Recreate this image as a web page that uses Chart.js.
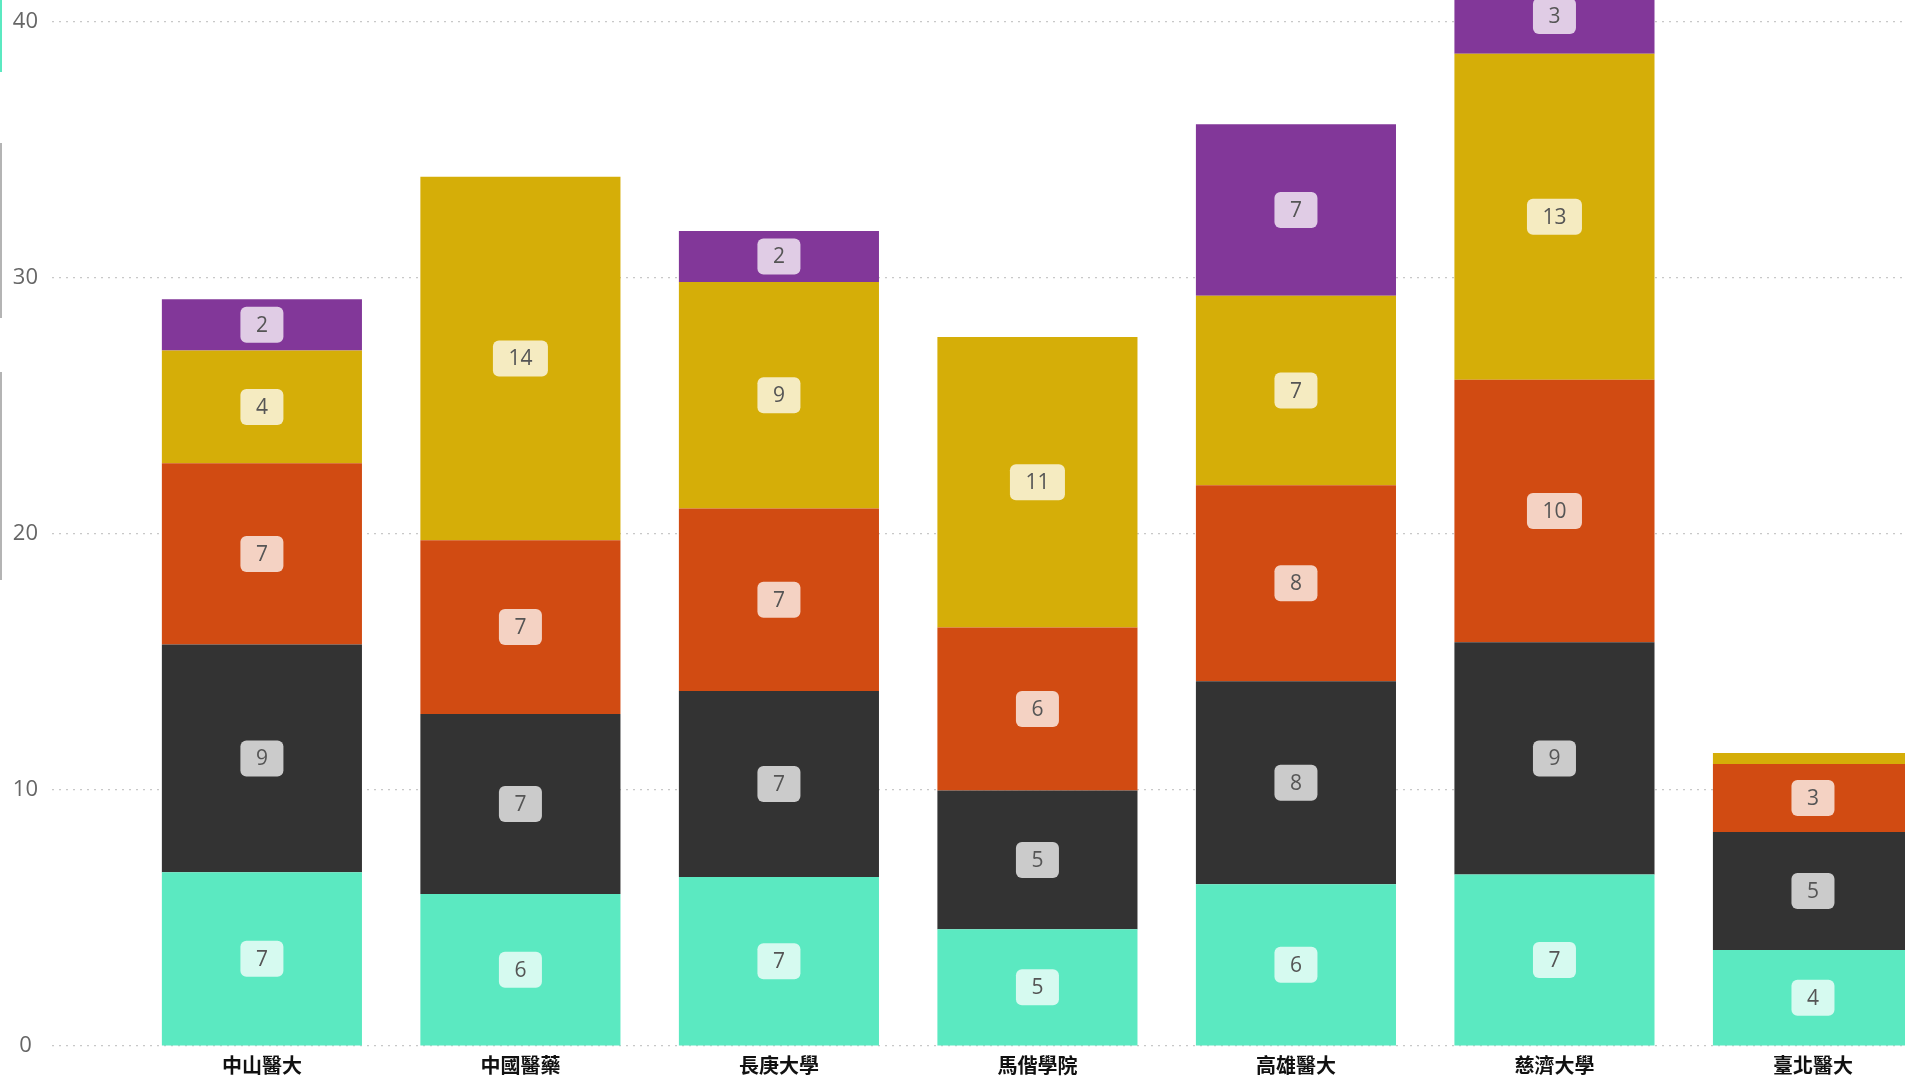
<!DOCTYPE html>
<html>
<head>
<meta charset="utf-8">
<script src="https://cdn.jsdelivr.net/npm/chart.js@4/dist/chart.umd.min.js"></script>
<style>
  html, body { margin: 0; padding: 0; background: #fff; overflow: hidden; }
  #wrap { position: relative; width: 1905px; height: 1077px; }
  .edge { position: absolute; left: 0; width: 2px; }
</style>
</head>
<body>
<div id="wrap">
  <canvas id="chart" width="1905" height="1077"></canvas>
  <div class="edge" style="top:0;height:72px;background:#5BE9C1"></div>
  <div class="edge" style="top:143px;height:175px;background:#b4b4b4"></div>
  <div class="edge" style="top:372px;height:208px;background:#b4b4b4"></div>
</div>
<script>
// Schools along the x axis
const schools = ['中山醫大', '中國醫藥', '長庚大學', '馬偕學院', '高雄醫大', '慈濟大學', '臺北醫大'];

// Stack segments, bottom to top
const teal   = [6.79, 5.94, 6.60, 4.56, 6.32, 6.70, 3.75];
const dark   = [8.89, 7.03, 7.27, 5.42, 7.93, 9.07, 4.61];
const orange = [7.08, 6.79, 7.13, 6.37, 7.65, 10.26, 2.66];
const gold   = [4.41, 14.20, 8.84, 11.35, 7.41, 12.73, 0.43];
const purple = [2.00, 0, 2.00, 0, 6.70, 2.95, 0];

// Y axis tick values
const yTicks = [0, 10, 20, 30, 40];

const seriesList = [
    { label: '系列1', values: teal,   color: '#5BE9C1' },
    { label: '系列2', values: dark,   color: '#333333' },
    { label: '系列3', values: orange, color: '#D14B12' },
    { label: '系列4', values: gold,   color: '#D5AE08' },
    { label: '系列5', values: purple, color: '#823799' }
];

// Small rounded boxes with the value in the middle of each segment
const valueBoxes = {
    id: 'valueBoxes',
    afterDatasetsDraw(chart) {
        const ctx = chart.ctx;
        ctx.save();
        ctx.font = '21px "Open Sans", "Noto Sans", sans-serif';
        ctx.textAlign = 'center';
        ctx.textBaseline = 'middle';
        chart.data.datasets.forEach((ds, di) => {
            const meta = chart.getDatasetMeta(di);
            meta.data.forEach((bar, i) => {
                const v = ds.data[i].y;
                if (!v) return;
                const h = Math.abs(bar.base - bar.y);
                if (h < 24) return;
                const text = String(Math.round(v));
                const w = ctx.measureText(text).width + 31;
                const bh = 36;
                const cx = bar.x;
                const cy = (bar.y + bar.base) / 2;
                ctx.fillStyle = 'rgba(255,255,255,0.75)';
                ctx.beginPath();
                ctx.roundRect(cx - w / 2, cy - bh / 2, w, bh, 6);
                ctx.fill();
                ctx.fillStyle = '#555555';
                ctx.fillText(text, cx, cy + 1);
            });
        });
        ctx.restore();
    }
};

const ctx = document.getElementById('chart').getContext('2d');
new Chart(ctx, {
    type: 'bar',
    data: {
        datasets: seriesList.map(s => ({
            label: s.label,
            data: s.values.map((v, i) => ({ x: i, y: v })),
            backgroundColor: s.color,
            borderWidth: 0,
            categoryPercentage: 0.774,
            barPercentage: 1
        }))
    },
    options: {
        responsive: false,
        animation: false,
        layout: { padding: 0 },
        plugins: {
            legend: { display: false },
            tooltip: { enabled: false }
        },
        scales: {
            x: {
                type: 'linear',
                stacked: true,
                offset: false,
                min: -0.812,
                max: 6.356,
                grid: { display: false, drawTicks: false, offset: false },
                border: { display: false },
                afterBuildTicks(scale) {
                    scale.ticks = schools.map((s, i) => ({ value: i }));
                },
                afterFit(scale) {
                    scale.height = 31;
                    scale.paddingLeft = 0;
                    scale.paddingRight = 0;
                },
                ticks: {
                    padding: 7,
                    maxRotation: 0,
                    autoSkip: false,
                    color: '#111111',
                    font: { family: '"Noto Sans CJK TC", sans-serif', size: 20, weight: 'bold' },
                    callback: v => schools[v]
                }
            },
            y: {
                stacked: true,
                min: 0,
                max: 40.86,
                grid: {
                    color: '#c8c8c8',
                    lineWidth: 1.2,
                    drawTicks: false
                },
                border: { display: false, dash: [2, 5] },
                afterBuildTicks(scale) {
                    scale.ticks = yTicks.map(v => ({ value: v }));
                },
                afterFit(scale) {
                    scale.width = 52;
                    scale.paddingTop = 0;
                    scale.paddingBottom = 0;
                },
                ticks: {
                    padding: 14,
                    crossAlign: 'center',
                    color: '#666666',
                    font: { family: '"Open Sans", "Noto Sans", sans-serif', size: 22 }
                }
            }
        }
    },
    plugins: [valueBoxes]
});
</script>
</body>
</html>
